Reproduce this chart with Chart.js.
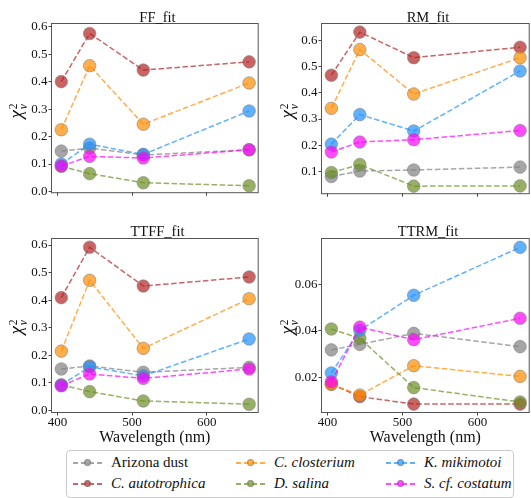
<!DOCTYPE html>
<html>
<head>
<meta charset="utf-8">
<script src="https://cdn.jsdelivr.net/npm/chart.js@4.4.0/dist/chart.umd.min.js"></script>
<style>
  html, body { margin: 0; padding: 0; background: #fff; }
  body { width: 531px; height: 498px; overflow: hidden; position: relative; font-family: 'Liberation Serif', 'Times New Roman', serif; color: #111; }
  .panel { position: absolute; }
  .ttl { position: absolute; font-size: 14.5px; line-height: 14.5px; transform: translateX(-50%); white-space: nowrap; }
  .ylab { position: absolute; transform: translate(-50%, -50%) rotate(-90deg); white-space: nowrap; font-size: 19px; line-height: 19px; }
  .ylab .ss { display: inline-flex; flex-direction: column; font-size: 11.5px; line-height: 10px; vertical-align: middle; margin-left: 1px; }
  #legend { position: absolute; left: 66px; top: 450px; width: 446px; height: 46px; border: 1px solid #ccc; border-radius: 4px; background: #fff; }
  .entry { position: absolute; height: 16px; }
  .entry .dash { position: absolute; left: 0; top: 7px; width: 30px; height: 1.5px; }
  .entry .dot { position: absolute; left: 11px; top: 4px; width: 7px; height: 7px; border-radius: 50%; box-sizing: border-box; border: 1px solid rgba(128,128,128,0.6); }
  .entry .lbl { position: absolute; left: 38px; top: -1px; font-size: 15px; line-height: 17px; white-space: nowrap; }
</style>
</head>
<body>

<div class="panel" style="left:0px;top:12px;"><canvas id="ff" width="265" height="189"></canvas></div>
<div class="panel" style="left:270px;top:12px;"><canvas id="rm" width="266" height="190"></canvas></div>
<div class="panel" style="left:0px;top:227px;"><canvas id="ttff" width="265" height="220"></canvas></div>
<div class="panel" style="left:270px;top:227px;"><canvas id="ttrm" width="266" height="220"></canvas></div>

<div class="ttl" style="left:157.5px;top:9.5px;">FF_fit</div>
<div class="ttl" style="left:428px;top:9.5px;">RM_fit</div>
<div class="ttl" style="left:157.5px;top:223.5px;">TTFF_fit</div>
<div class="ttl" style="left:428px;top:223.5px;">TTRM_fit</div>

<div class="ylab" style="left:17px;top:111px;"><i>χ</i><span class="ss"><span>2</span><i>ν</i></span></div>
<div class="ylab" style="left:288px;top:111px;"><i>χ</i><span class="ss"><span>2</span><i>ν</i></span></div>
<div class="ylab" style="left:17px;top:327px;"><i>χ</i><span class="ss"><span>2</span><i>ν</i></span></div>
<div class="ylab" style="left:288px;top:327px;"><i>χ</i><span class="ss"><span>2</span><i>ν</i></span></div>

<div id="legend"></div>

<script>
// wavelengths (nm) of the four measurements
const wavelengths = [405, 443, 515, 657];

const seriesNames = ['Arizona dust', 'C. autotrophica', 'C. closterium', 'D. salina', 'K. mikimotoi', 'S. cf. costatum'];
const italicNames = [false, true, true, true, true, true];
const seriesColors = [[128,128,128], [178,34,34], [255,140,0], [107,142,35], [30,144,255], [255,0,255]];

// reduced chi-square per series, same order as seriesNames
const ffFit = [
  [0.147, 0.158, 0.133, 0.152],
  [0.400, 0.575, 0.442, 0.472],
  [0.225, 0.458, 0.245, 0.395],
  [0.092, 0.065, 0.032, 0.021],
  [0.100, 0.172, 0.135, 0.293],
  [0.093, 0.128, 0.122, 0.152]
];
const rmFit = [
  [0.080, 0.101, 0.105, 0.116],
  [0.468, 0.633, 0.535, 0.575],
  [0.341, 0.566, 0.396, 0.535],
  [0.095, 0.126, 0.043, 0.044],
  [0.204, 0.317, 0.254, 0.484],
  [0.174, 0.212, 0.221, 0.256]
];
const ttffFit = [
  [0.150, 0.161, 0.138, 0.156],
  [0.409, 0.592, 0.451, 0.484],
  [0.215, 0.472, 0.225, 0.405],
  [0.092, 0.068, 0.034, 0.022],
  [0.092, 0.158, 0.125, 0.259],
  [0.089, 0.132, 0.116, 0.150]
];
const ttrmFit = [
  [0.0318, 0.0342, 0.0389, 0.0332],
  [0.0171, 0.0117, 0.0085, 0.0085],
  [0.0170, 0.0124, 0.0250, 0.0204],
  [0.0408, 0.0368, 0.0156, 0.0094],
  [0.0219, 0.0402, 0.0553, 0.0759],
  [0.0181, 0.0416, 0.0362, 0.0454]
];

// tick labels
const xTicks = [400, 500, 600];
const ffTicks = [0.0, 0.1, 0.2, 0.3, 0.4, 0.5, 0.6];
const rmTicks = [0.1, 0.2, 0.3, 0.4, 0.5, 0.6];
const ttffTicks = [0.0, 0.1, 0.2, 0.3, 0.4, 0.5, 0.6];
const ttrmTicks = [0.02, 0.04, 0.06];

const serif = "'Liberation Serif', 'Times New Roman', serif";
const rgba = (c, a) => `rgba(${c[0]},${c[1]},${c[2]},${a})`;

const framePlugin = {
  id: 'frame',
  afterDatasetsDraw(chart) {
    const { ctx, chartArea: a } = chart;
    ctx.save();
    ctx.strokeStyle = '#555';
    ctx.lineWidth = 1;
    ctx.strokeRect(a.left - 0.5, a.top - 0.5, a.right - a.left + 1, a.bottom - a.top + 1);
    ctx.restore();
  }
};

function makeChart(id, values, yTicks, yMin, yMax, decimals, bottomRow) {
  const n = values.length;
  const datasets = values.map((vals, i) => ({
    label: seriesNames[i],
    data: vals.map((v, j) => ({ x: wavelengths[j], y: v })),
    showLine: true,
    borderColor: rgba(seriesColors[i], 0.7),
    borderWidth: 1.5,
    borderDash: [5.5, 2.5],
    pointRadius: 6.3,
    pointBackgroundColor: rgba(seriesColors[i], 0.7),
    pointBorderColor: 'rgba(128,128,128,0.55)',
    pointBorderWidth: 1,
    order: n - i,
    clip: false
  }));

  new Chart(document.getElementById(id), {
    type: 'scatter',
    data: { datasets },
    options: {
      responsive: false,
      animation: false,
      events: [],
      layout: { padding: { top: 12, right: 2, left: 0, bottom: 0 } },
      plugins: { legend: { display: false }, tooltip: { enabled: false } },
      scales: {
        x: {
          type: 'linear',
          min: 392.5,
          max: 668.5,
          afterBuildTicks: s => { s.ticks = xTicks.map(v => ({ value: v })); },
          afterFit: s => { s.height = bottomRow ? 35 : 6; },
          border: { display: false },
          grid: { drawOnChartArea: false, drawTicks: true, tickLength: 3.5, color: '#444', lineWidth: 1 },
          ticks: {
            display: bottomRow,
            autoSkip: false,
            maxRotation: 0,
            padding: -1,
            color: '#111',
            font: { family: serif, size: 13 }
          },
          title: {
            display: bottomRow,
            text: 'Wavelength (nm)',
            color: '#111',
            padding: { top: 0, bottom: 0 },
            font: { family: serif, size: 16 }
          }
        },
        y: {
          type: 'linear',
          min: yMin,
          max: yMax,
          afterBuildTicks: s => { s.ticks = yTicks.map(v => ({ value: v })); },
          afterFit: s => { s.width = 52; },
          border: { display: false },
          grid: { drawOnChartArea: false, drawTicks: true, tickLength: 3.5, color: '#444', lineWidth: 1 },
          ticks: {
            autoSkip: false,
            padding: 1,
            color: '#111',
            font: { family: serif, size: 13 },
            callback: v => Number(v).toFixed(decimals)
          }
        }
      }
    },
    plugins: [framePlugin]
  });
}

makeChart('ff', ffFit, ffTicks, -0.0025, 0.6097, 1, false);
makeChart('rm', rmFit, rmTicks, 0.016, 0.664, 1, false);
makeChart('ttff', ttffFit, ttffTicks, -0.006, 0.6218, 1, true);
makeChart('ttrm', ttrmFit, ttrmTicks, 0.0051, 0.0795, 2, true);

// legend, column-major like the original (2 rows x 3 columns)
const legend = document.getElementById('legend');
const colX = [6, 169, 319];
const rowY = [4, 25];
seriesNames.forEach((name, i) => {
  const col = Math.floor(i / 2), row = i % 2;
  const c = seriesColors[i];
  const e = document.createElement('div');
  e.className = 'entry';
  e.style.left = colX[col] + 'px';
  e.style.top = rowY[row] + 'px';
  const lineCol = rgba(c, 0.7);
  e.innerHTML =
    `<div class="dash" style="background: repeating-linear-gradient(90deg, ${lineCol} 0 5.5px, transparent 5.5px 8px);"></div>` +
    `<div class="dot" style="background:${rgba(c, 0.7)}"></div>` +
    `<div class="lbl">${italicNames[i] ? '<i>' + name + '</i>' : name}</div>`;
  legend.appendChild(e);
});
</script>
</body>
</html>
